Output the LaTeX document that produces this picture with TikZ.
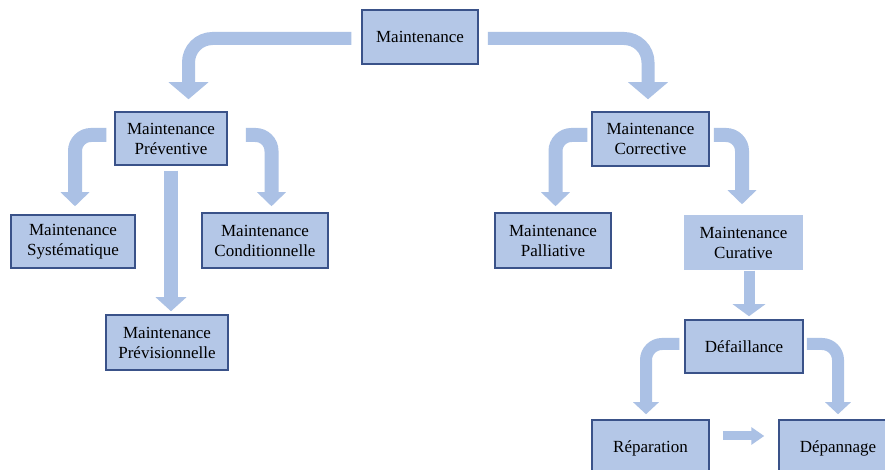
\documentclass[tikz,border=0pt]{standalone}
\usepackage{fontspec}
\setmainfont{Liberation Serif}
\usetikzlibrary{arrows.meta}
\definecolor{boxfill}{HTML}{B4C7E7}
\definecolor{boxline}{HTML}{3A5289}
\definecolor{arrfill}{HTML}{ABC1E5}
\tikzset{
  box/.style={fill=boxfill, draw=boxline, line width=1.5pt, align=center,
    font=\fontsize{17}{20}\selectfont, inner sep=0pt},
  plainbox/.style={box, draw=none},
  bigarrow/.style={draw=arrfill, line width=13pt, rounded corners=24pt,
    -{Triangle[width=39pt,length=17pt]}},
  midarrow/.style={draw=arrfill, line width=14pt, rounded corners=16pt,
    -{Triangle[width=28pt,length=14pt]}},
  smallarrow/.style={draw=arrfill, line width=9pt,
    -{Triangle[width=17pt,length=13pt]}}
}
\begin{document}
\begin{tikzpicture}[x=1pt,y=1pt]
\useasboundingbox[fill=white] (0,0) rectangle (885,470);
% nodes
\node[box, minimum width=116pt, minimum height=54pt] (m) at (420,433) {Maintenance};
\node[box, minimum width=112pt, minimum height=53pt] (p) at (171,331.5) {Maintenance\\Préventive};
\node[box, minimum width=124pt, minimum height=53pt] (sys) at (73,228.5) {Maintenance\\Systématique};
\node[box, minimum width=126pt, minimum height=55pt] (cond) at (265,229.5) {Maintenance\\Conditionnelle};
\node[box, minimum width=122pt, minimum height=55pt] (prev) at (167,127.5) {Maintenance\\Prévisionnelle};
\node[box, minimum width=117pt, minimum height=54pt] (corr) at (650.5,331) {Maintenance\\Corrective};
\node[box, minimum width=116pt, minimum height=55pt] (pal) at (553,229.5) {Maintenance\\Palliative};
\node[plainbox, minimum width=119pt, minimum height=55pt] (cur) at (743.5,227.5) {Maintenance\\Curative};
\node[box, minimum width=118pt, minimum height=53pt] (def) at (744,123.5) {Défaillance};
\node[box, minimum width=117pt, minimum height=56pt] (rep) at (650.5,22) {Réparation};
\node[box, minimum width=118pt, minimum height=56pt] (dep) at (838,22) {Dépannage};
% connectors
\draw[bigarrow] ([xshift=-10pt,yshift=-1.5pt]m.west) -| ([xshift=17.5pt,yshift=12pt]p.north);
\draw[bigarrow] ([xshift=9pt,yshift=-1.5pt]m.east) -| ([xshift=-2.5pt,yshift=12pt]corr.north);
\draw[midarrow] ([xshift=-8pt,yshift=3.5pt]p.west) -| ([xshift=2pt,yshift=8pt]sys.north);
\draw[midarrow] ([xshift=18pt,yshift=3.5pt]p.east) -| ([xshift=6.5pt,yshift=6pt]cond.north);
\draw[midarrow, -{Triangle[width=30pt,length=14pt]}] ([yshift=-5pt]p.south) -- ([yshift=3pt]p.south |- prev.north);
\draw[midarrow] ([xshift=-4pt,yshift=4pt]corr.west) -| ([xshift=2.5pt,yshift=6pt]pal.north);
\draw[midarrow] ([xshift=4pt,yshift=4pt]corr.east) -| ([xshift=-1.5pt,yshift=10pt]cur.north);
\draw[midarrow, line width=11pt, -{Triangle[width=32pt,length=12pt]}] ([xshift=5.5pt]cur.south) -- ([xshift=5pt,yshift=3pt]def.north);
\draw[midarrow, line width=12pt, -{Triangle[width=25pt,length=12pt]}] ([xshift=-5pt,yshift=2.5pt]def.west) -| ([xshift=-4.5pt,yshift=5pt]rep.north);
\draw[midarrow, line width=12pt, -{Triangle[width=25pt,length=12pt]}] ([xshift=3pt,yshift=2.5pt]def.east) -| ([yshift=5pt]dep.north);
\draw[smallarrow] ([xshift=13pt,yshift=12pt]rep.east) -- ([xshift=-14pt,yshift=12pt]dep.west);
\end{tikzpicture}
\end{document}
